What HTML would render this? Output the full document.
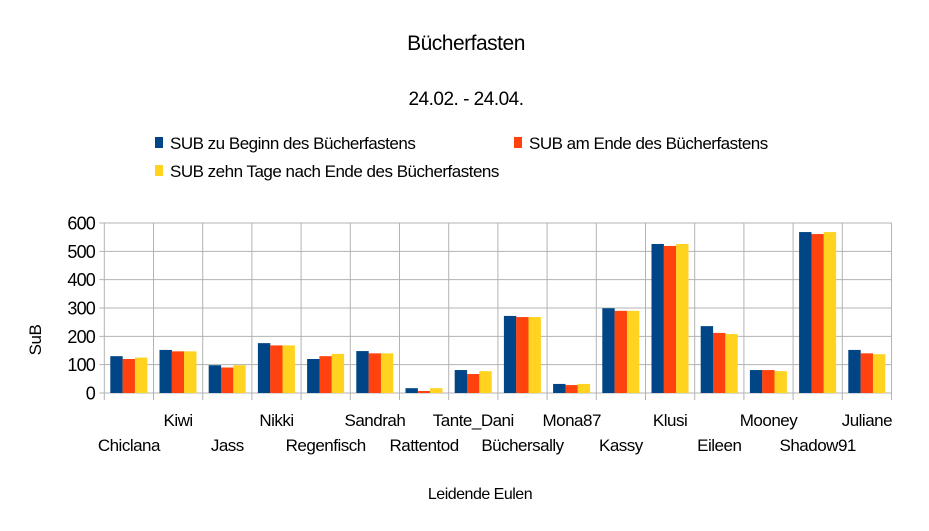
<!DOCTYPE html>
<html><head><meta charset="utf-8"><style>
html,body{margin:0;padding:0;background:#fff}
svg text{font-family:"Liberation Sans",sans-serif;fill:#000}
</style></head><body>
<svg width="929" height="526" viewBox="0 0 929 526" xmlns="http://www.w3.org/2000/svg">
<text x="466" y="50" font-size="21" text-anchor="middle" letter-spacing="-0.5">Bücherfasten</text>
<text x="466" y="105" font-size="19" text-anchor="middle" letter-spacing="-0.5">24.02. - 24.04.</text>
<rect x="155" y="137" width="8" height="11" fill="#004586"/>
<text x="170" y="149" font-size="17" letter-spacing="-0.5">SUB zu Beginn des Bücherfastens</text>
<rect x="514" y="137" width="8" height="11" fill="#ff420e"/>
<text x="529" y="149" font-size="17" letter-spacing="-0.5">SUB am Ende des Bücherfastens</text>
<rect x="155" y="165" width="8" height="11" fill="#ffd320"/>
<text x="170" y="177" font-size="17" letter-spacing="-0.5">SUB zehn Tage nach Ende des Bücherfastens</text>
<g id="grid" stroke="#b3b3b3" stroke-width="1"></g>
<g id="bars"></g>
<g id="ylab" font-size="18" text-anchor="end"></g>
<g id="xlab" font-size="17" text-anchor="middle"></g>
<text transform="translate(41,340) rotate(-90)" font-size="17" text-anchor="middle" letter-spacing="-0.5">SuB</text>
<text x="480" y="499" font-size="16" text-anchor="middle" letter-spacing="-0.5">Leidende Eulen</text>
</svg>
<script>
const ns="http://www.w3.org/2000/svg";
const names=["Chiclana","Kiwi","Jass","Nikki","Regenfisch","Sandrah","Rattentod","Tante_Dani","Büchersally","Mona87","Kassy","Klusi","Eileen","Mooney","Shadow91","Juliane"];
const d=[[130,120,125],[152,147,147],[98,90,98],[176,168,168],[120,130,138],[148,140,140],[17,7,17],[81,67,77],[272,268,268],[32,28,32],[299,290,290],[526,519,526],[236,212,208],[81,81,77],[568,561,568],[152,140,137]];
const cols=["#004586","#ff420e","#ffd320"];
const x0=104.3,w=49.2,y0=393,sc=170/600;
function el(p,t,a,txt){const e=document.createElementNS(ns,t);for(const k in a)e.setAttribute(k,a[k]);if(txt!==undefined)e.textContent=txt;document.getElementById(p).appendChild(e);}
for(let i=0;i<=6;i++){const y=y0-i*100*sc;el("grid","line",{x1:x0-5,x2:x0+16*w,y1:y,y2:y});el("ylab","text",{x:95,y:y+6.5,"letter-spacing":"-0.8"},String(i*100));}
for(let i=0;i<=16;i++){const x=x0+i*w;el("grid","line",{x1:x,x2:x,y1:y0-600*sc,y2:y0+7});}
d.forEach((v,i)=>{v.forEach((val,j)=>{const h=val*sc;el("bars","rect",{x:x0+i*w+6+j*12.3,y:y0-h,width:12.4,height:h,fill:cols[j]});});
el("xlab","text",{x:x0+i*w+w/2,y:i%2?426:451,"letter-spacing":"-0.5"},names[i]);});
</script>
</body></html>
